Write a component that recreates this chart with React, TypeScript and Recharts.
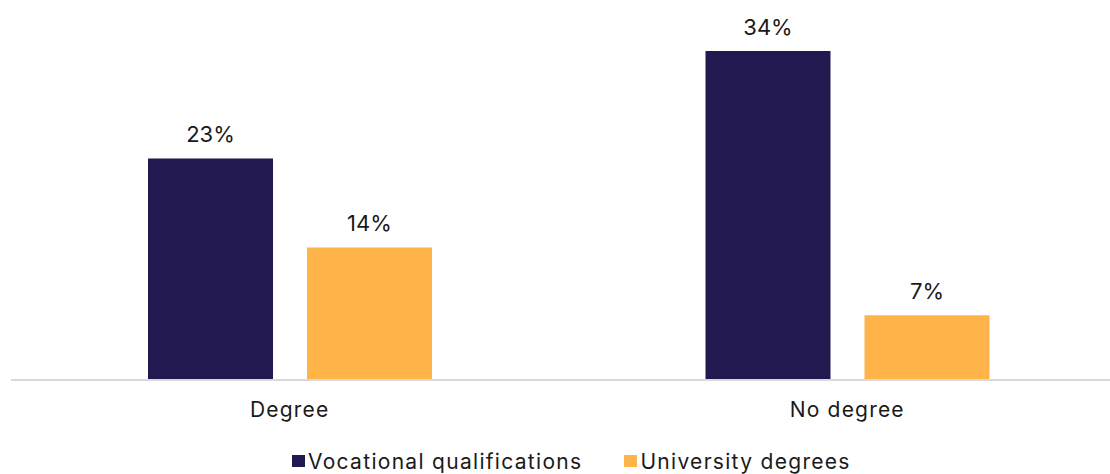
import { BarChart, Bar, XAxis, YAxis, Legend, LabelList } from "recharts";

const categories = ["Degree", "No degree"];
const vocational = [22.9, 34];
const university = [13.7, 6.7];
const seriesNames = ["Vocational qualifications", "University degrees"];

const COLORS = ["#21194F", "#FFB449"];
const FONT = "Inter, 'Noto Sans', sans-serif";

const data = categories.map((name, i) => ({
  name,
  vocational: vocational[i],
  university: university[i],
}));

const LegendContent = () => (
  <div style={{ display: "flex", alignItems: "center", fontFamily: FONT, fontSize: 21, letterSpacing: 1.3, color: "#1a1a1a", height: 26 }}>
    {seriesNames.map((n, i) => (
      <div key={n} style={{ display: "flex", alignItems: "center", marginRight: i === 0 ? 42 : 0 }}>
        <span style={{ display: "inline-block", width: 12.5, height: 12.5, background: COLORS[i], marginRight: 3.5 }} />
        <span style={{ whiteSpace: "nowrap" }}>{n}</span>
      </div>
    ))}
  </div>
);

const fmt = (v: unknown) => `${Math.round(Number(v))}%`;

export default function App() {
  return (
    <div style={{ position: "fixed", top: 0, left: 0, width: 1110, height: 474, overflow: "hidden", background: "#fff" }}>
      <BarChart
        width={1126}
        height={474}
        data={data}
        margin={{ top: 51, right: 0, bottom: 0, left: 11 }}
        barGap={34}
      >
        <XAxis
          dataKey="name"
          height={68}
          axisLine={{ stroke: "#d9d9d9", strokeWidth: 2 }}
          tickLine={false}
          tickMargin={16}
          tick={{ fontSize: 21, fill: "#1a1a1a", fontFamily: FONT, letterSpacing: 1.2 }}
        />
        <YAxis hide domain={[0, 34]} />
        <Legend
          verticalAlign="bottom"
          content={<LegendContent />}
          wrapperStyle={{ left: 292, width: "auto" }}
        />
        <Bar dataKey="vocational" name={seriesNames[0]} fill={COLORS[0]} barSize={125} isAnimationActive={false}>
          <LabelList dataKey="vocational" position="top" offset={16} formatter={fmt} style={{ fontSize: 22, fill: "#1a1a1a", fontFamily: FONT }} />
        </Bar>
        <Bar dataKey="university" name={seriesNames[1]} fill={COLORS[1]} barSize={125} isAnimationActive={false}>
          <LabelList dataKey="university" position="top" offset={16} formatter={fmt} style={{ fontSize: 22, fill: "#1a1a1a", fontFamily: FONT }} />
        </Bar>
      </BarChart>
    </div>
  );
}
